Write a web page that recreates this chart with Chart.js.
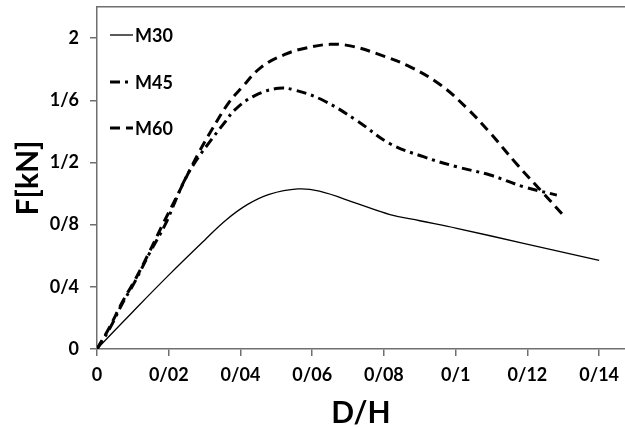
<!DOCTYPE html>
<html>
<head>
<meta charset="utf-8">
<script src="https://cdn.jsdelivr.net/npm/chart.js@4.4.1/dist/chart.umd.min.js"></script>
<style>
  body { margin: 0; background: #fff; }
  #wrap { width: 625px; height: 428px; }
</style>
</head>
<body>
<div id="wrap"><canvas id="myChart" width="625" height="428"></canvas></div>
<script>
'use strict';

// x values are D/H, y values are F in kN
const seriesNames = ['M30', 'M45', 'M60'];

const m30 = [
  [0, 0], [0.01, 0.24], [0.02, 0.475], [0.03, 0.7], [0.036, 0.83], [0.042, 0.93],
  [0.048, 0.995], [0.056, 1.03], [0.062, 1.015], [0.0724, 0.937], [0.0817, 0.865],
  [0.09, 0.825], [0.1003, 0.776], [0.1189, 0.68], [0.1375, 0.583], [0.14, 0.57]
];
const m45 = [
  [0, 0], [0.0035, 0.13], [0.007, 0.29], [0.0105, 0.43], [0.0145, 0.61], [0.019, 0.8],
  [0.0218, 0.95], [0.0245, 1.09], [0.0273, 1.2], [0.031, 1.32], [0.0357, 1.46],
  [0.0385, 1.54], [0.044, 1.63], [0.0506, 1.677], [0.0552, 1.665], [0.063, 1.6],
  [0.0724, 1.47], [0.0817, 1.32], [0.091, 1.237], [0.1003, 1.172], [0.1096, 1.119],
  [0.1189, 1.044], [0.1282, 0.99]
];
const m60 = [
  [0, 0], [0.0035, 0.14], [0.007, 0.3], [0.0105, 0.44], [0.0145, 0.62], [0.0185, 0.81],
  [0.0218, 0.96], [0.025, 1.11], [0.0283, 1.26], [0.032, 1.41], [0.0366, 1.58],
  [0.0403, 1.68], [0.0459, 1.815], [0.0524, 1.895], [0.058, 1.935], [0.065, 1.96],
  [0.0706, 1.95], [0.078, 1.9], [0.0873, 1.815], [0.0957, 1.7], [0.1031, 1.55],
  [0.1096, 1.39], [0.117, 1.19], [0.1245, 1.0], [0.13, 0.86]
];

const xTicks = [0, 0.02, 0.04, 0.06, 0.08, 0.1, 0.12, 0.14];
const xTickLabels = ['0', '0/02', '0/04', '0/06', '0/08', '0/1', '0/12', '0/14'];
const yTicks = [0, 0.4, 0.8, 1.2, 1.6, 2];
const yTickLabels = ['0', '0/4', '0/8', '1/2', '1/6', '2'];

const xMax = 0.1472;
const yMax = 2.2;

function toPoints(arr) {
  return arr.map(p => ({ x: p[0], y: p[1] }));
}

const axisColor = '#6f6f6f';
const fontName = 'Lato, "Open Sans", sans-serif';

// small legend drawn inside the plot, top left
const insideLegend = {
  id: 'insideLegend',
  afterDatasetsDraw(chart) {
    const ctx = chart.ctx;
    const left = chart.chartArea.left;
    const rows = [35, 82, 128];
    ctx.save();
    chart.data.datasets.forEach((ds, i) => {
      const y = rows[i];
      ctx.beginPath();
      ctx.setLineDash(ds.borderDash || []);
      ctx.lineWidth = ds.borderWidth;
      ctx.strokeStyle = ds.borderColor;
      ctx.moveTo(left + 13, y);
      ctx.lineTo(left + 36, y);
      ctx.stroke();
      ctx.setLineDash([]);
      ctx.fillStyle = '#000';
      ctx.font = 'bold 18px ' + fontName;
      ctx.textBaseline = 'middle';
      ctx.textAlign = 'left';
      ctx.fillText(ds.label, left + 38, y + 1);
    });
    ctx.restore();
  }
};

const ctx = document.getElementById('myChart').getContext('2d');
const myChart = new Chart(ctx, {
  type: 'scatter',
  data: {
    datasets: [{
      label: seriesNames[0],
      data: toPoints(m30),
      showLine: true,
      borderColor: '#000',
      borderWidth: 1.3,
      pointRadius: 0,
      tension: 0.4
    }, {
      label: seriesNames[1],
      data: toPoints(m45),
      showLine: true,
      borderColor: '#000',
      borderWidth: 3,
      borderDash: [10, 5, 3, 5],
      pointRadius: 0,
      tension: 0.4
    }, {
      label: seriesNames[2],
      data: toPoints(m60),
      showLine: true,
      borderColor: '#000',
      borderWidth: 3,
      borderDash: [10, 6],
      pointRadius: 0,
      tension: 0.4
    }]
  },
  options: {
    responsive: false,
    animation: false,
    layout: { padding: { top: 7, right: 0, left: 0, bottom: 0 } },
    plugins: {
      legend: { display: false },
      tooltip: { enabled: false }
    },
    scales: {
      x: {
        type: 'linear',
        min: 0,
        max: xMax,
        afterBuildTicks: scale => { scale.ticks = xTicks.map(v => ({ value: v })); },
        afterFit: scale => {
          scale.height = 79;
          scale.paddingLeft = 0;
          scale.paddingRight = 0;
        },
        ticks: {
          color: '#000',
          padding: 8,
          maxRotation: 0,
          autoSkip: false,
          font: { family: fontName, size: 18, weight: 'bold' },
          callback: (v, i) => xTickLabels[i]
        },
        grid: { drawOnChartArea: false, drawTicks: true, tickLength: 7, color: axisColor, lineWidth: 1.5 },
        border: { color: axisColor, width: 1.5 },
        title: {
          display: true,
          text: 'D/H',
          color: '#000',
          font: { family: fontName, size: 30, weight: 'bold', lineHeight: 1 },
          padding: { top: 0, bottom: 0 }
        }
      },
      xTop: {
        type: 'linear',
        position: 'top',
        min: 0,
        max: xMax,
        afterFit: scale => {
          scale.height = 0;
          scale.paddingLeft = 0;
          scale.paddingRight = 0;
        },
        ticks: { display: false },
        grid: { display: false },
        border: { color: axisColor, width: 1.5 }
      },
      y: {
        type: 'linear',
        min: 0,
        max: yMax,
        afterBuildTicks: scale => { scale.ticks = yTicks.map(v => ({ value: v })); },
        afterFit: scale => {
          scale.width = 97;
          scale.paddingTop = 0;
          scale.paddingBottom = 0;
        },
        ticks: {
          color: '#000',
          padding: 11,
          font: { family: fontName, size: 18, weight: 'bold' },
          callback: (v, i) => yTickLabels[i]
        },
        grid: { drawOnChartArea: false, drawTicks: true, tickLength: 7, color: axisColor, lineWidth: 1.5 },
        border: { color: axisColor, width: 1.5 },
        title: {
          display: true,
          text: 'F[kN]',
          color: '#000',
          font: { family: fontName, size: 30, weight: 'bold', lineHeight: 1.2 },
          padding: { top: 10, bottom: 0 }
        }
      }
    }
  },
  plugins: [insideLegend]
});
</script>
</body>
</html>
